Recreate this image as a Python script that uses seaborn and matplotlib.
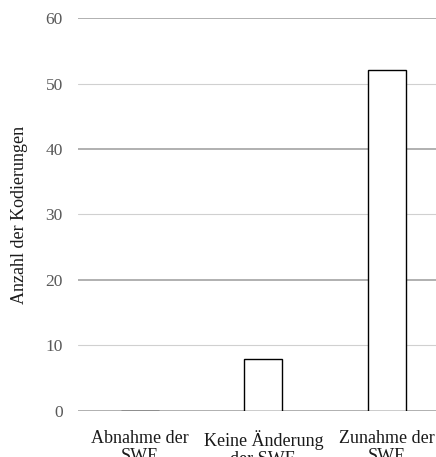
import matplotlib
matplotlib.use("Agg")
import matplotlib.pyplot as plt
import seaborn as sns
import pandas as pd

# data
kategorien = ["Abnahme der\nSWE", "Keine Änderung\nder SWE", "Zunahme der\nSWE"]
anzahl = [0, 8, 52]
y_ticks = [0, 10, 20, 30, 40, 50, 60]

df = pd.DataFrame({"Kategorie": kategorien, "Anzahl": anzahl})

sns.set_style("white")
plt.rcParams['font.family'] = ['Liberation Serif', 'DejaVu Serif']

fig = plt.figure(figsize=(4.36, 4.57), dpi=100)
# Achse reicht rechts etwas ueber den Bildrand hinaus (wie im Original)
ax = fig.add_axes([0.179, 0.1007, 0.85, 0.8599])

sns.barplot(data=df, x="Kategorie", y="Anzahl", color="white", edgecolor="black",
            linewidth=1.0, width=0.31, ax=ax, zorder=3)

ax.set_ylim(0, 60)
ax.set_xlim(-0.5, 2.5)
ax.set_yticks(y_ticks)
ax.tick_params(axis="y", length=0, pad=11, labelsize=12.5, labelcolor="#595959")
ax.tick_params(axis="x", length=0, pad=14, labelsize=13, labelcolor="#1a1a1a")
for lbl in ax.get_xticklabels():
    lbl.set_linespacing(1.05)
ax.set_xlabel("")
ax.set_ylabel("Anzahl der Kodierungen", fontsize=13, color="#1a1a1a")
ax.yaxis.set_label_coords(-0.135, 0.5)

# gridlines: abwechselnd kraeftiger und duenner
for v in y_ticks:
    if v % 20 == 0:
        ax.axhline(v, color="#b0b0b0", linewidth=1.4, zorder=1)
    else:
        ax.axhline(v, color="#d0d0d0", linewidth=0.8, zorder=1)

for s in ax.spines.values():
    s.set_visible(False)

fig.savefig("out.png", dpi=100)
